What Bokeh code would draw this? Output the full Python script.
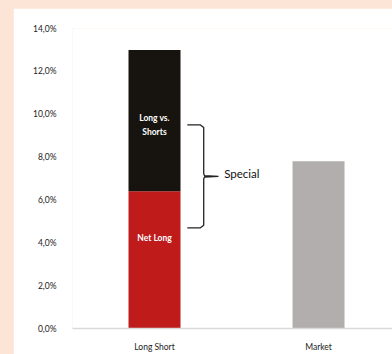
from bokeh.plotting import figure
from bokeh.models import ColumnDataSource, Range1d, FixedTicker, Column
from bokeh.core.properties import value
from bokeh.embed import file_html
from bokeh.resources import INLINE

# ---- data ----
categories = ["Long Short", "Market"]
net_long = [6.4, 0.0]
long_vs_shorts = [6.6, 0.0]
market = [0.0, 7.8]
y_ticks = [0, 2, 4, 6, 8, 10, 12, 14]
y_tick_labels = ["0,0%", "2,0%", "4,0%", "6,0%", "8,0%", "10,0%", "12,0%", "14,0%"]
bracket_range = [4.7, 9.5]
bracket_label = "Special"
seg_labels = ["Net Long", "Long vs.\nShorts"]

FONT = "Lato"
x_pos = [0.5, 1.5]
bw = 0.317

p = figure(width=379, height=346, output_backend="svg", toolbar_location=None,
           x_range=Range1d(0, 1.951), y_range=Range1d(0, 14.0),
           min_border_left=59, min_border_right=0, min_border_top=20, min_border_bottom=26,
           margin=(8, 0, 0, 13))
p.outline_line_color = None
p.background_fill_color = "white"
p.border_fill_color = "white"
p.xgrid.visible = False
p.ygrid.visible = False

src = ColumnDataSource(dict(x=x_pos, nl=net_long,
                            top2=[a + b for a, b in zip(net_long, long_vs_shorts)],
                            mk=market))
p.vbar(x="x", width=bw, bottom=0, top="nl", source=src, fill_color="#bf1b1b", line_color=None)
p.vbar(x="x", width=bw, bottom="nl", top="top2", source=src, fill_color="#17130f", line_color=None)
p.vbar(x="x", width=bw, bottom=0, top="mk", source=src, fill_color="#b1aead", line_color=None)

# segment labels
p.text(x=[x_pos[0]], y=[net_long[0] * 0.66], text=[seg_labels[0]],
       text_font=value(FONT), text_font_size="8.5px", text_font_style="bold",
       text_color="white", text_align="center", text_baseline="middle")
top_total = net_long[0] + long_vs_shorts[0]
p.text(x=[x_pos[0]], y=[top_total - long_vs_shorts[0] * 0.53], text=[seg_labels[1]],
       text_font=value(FONT), text_font_size="8.5px", text_font_style="bold",
       text_color="white", text_align="center", text_baseline="middle",
       text_line_height=1.4)

# bracket "}"
b0, b1 = bracket_range
bm = (b0 + b1) / 2
xl, xv, xt = 0.70, 0.80, 0.89
r = 0.12
rx = 0.02
bx = [xl, xv - rx, xv, xv, xv + 0.005, xt, xv + 0.005, xv, xv, xv - rx, xl]
by = [b1, b1, b1 - r, bm + r, bm + 0.03, bm, bm - 0.03, bm - r, b0 + r, b0, b0]
p.line(bx, by, line_color="#222222", line_width=1.3)
p.text(x=[0.925], y=[bm + 0.15], text=[bracket_label], text_font=value(FONT),
       text_font_size="11.5px", text_color="#111111", text_baseline="middle")

# axes
p.yaxis.ticker = FixedTicker(ticks=y_ticks)
p.yaxis.major_label_overrides = {t: l for t, l in zip(y_ticks, y_tick_labels)}
p.yaxis.axis_line_color = None
p.yaxis.major_tick_line_color = None
p.yaxis.minor_tick_line_color = None
p.yaxis.major_label_standoff = 10
p.yaxis.major_label_text_font = FONT
p.yaxis.major_label_text_font_size = "8.5px"
p.yaxis.major_label_text_color = "#222222"

p.xaxis.ticker = FixedTicker(ticks=x_pos)
p.xaxis.major_label_overrides = {x: c for x, c in zip(x_pos, categories)}
p.xaxis.axis_line_color = "#d9d9d9"
p.xaxis.axis_line_width = 1.5
p.xaxis.major_tick_line_color = None
p.xaxis.minor_tick_line_color = None
p.xaxis.major_label_standoff = 7
p.xaxis.major_label_text_font = FONT
p.xaxis.major_label_text_font_size = "8.5px"
p.xaxis.major_label_text_color = "#222222"

layout = Column(p, width=392, height=354, styles={"background-color": "#fce4d6"})

with open("out.html", "w") as f:
    f.write(file_html(layout, INLINE))
